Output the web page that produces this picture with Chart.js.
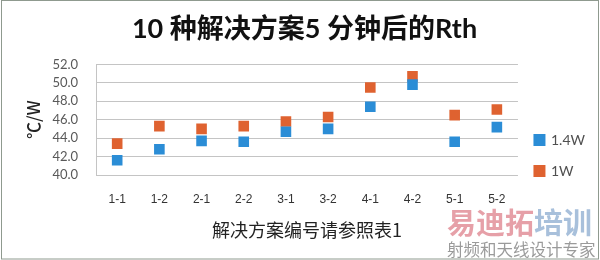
<!DOCTYPE html>
<html>
<head>
<meta charset="utf-8">
<script src="https://cdn.jsdelivr.net/npm/chart.js@4"></script>
<style>
  html, body { margin: 0; padding: 0; background: #fff; }
  #wrap { width: 600px; height: 260px; position: relative; }
</style>
</head>
<body>
<div id="wrap"><canvas id="chart" width="600" height="260"></canvas></div>
<script>
// solution ids on the x axis
const categories = ["1-1", "1-2", "2-1", "2-2", "3-1", "3-2", "4-1", "4-2", "5-1", "5-2"];
// Rth after 5 minutes, degC/W
const rth14W = [41.6, 42.8, 43.7, 43.6, 44.7, 45.0, 47.4, 49.8, 43.6, 45.2];
const rth1W = [43.4, 45.3, 45.0, 45.3, 45.8, 46.3, 49.5, 50.7, 46.5, 47.1];
const seriesNames = ["1.4W", "1W"];
const yMin = 40, yMax = 52, yStep = 2;

const blue = "#2b8dd6";
const orange = "#df6230";
const gridColor = "#c4c4c4";

// white background, outer frame and the watermark in the corner
const frame = {
    id: "frame",
    beforeDraw(chart) {
        const c = chart.ctx;
        c.save();
        c.fillStyle = "#fff";
        c.fillRect(0, 0, chart.width, chart.height);
        c.restore();
    },
    afterDraw(chart) {
        const c = chart.ctx;
        c.save();
        c.strokeStyle = "#8f9a8f";
        c.lineWidth = 1;
        c.strokeRect(1.5, 0.5, chart.width - 3, chart.height - 1.5);

        c.textBaseline = "middle";
        c.textAlign = "left";
        c.font = "bold 29px 'Noto Sans CJK SC'";
        c.fillStyle = "rgba(214, 96, 110, 0.6)";
        c.fillText("易迪拓", 447, 223);
        const w = c.measureText("易迪拓").width;
        c.fillStyle = "rgba(110, 150, 195, 0.6)";
        c.fillText("培训", 447 + w, 223);
        c.font = "16.5px 'Noto Sans CJK SC'";
        c.fillStyle = "rgba(120, 120, 120, 0.75)";
        c.fillText("射频和天线设计专家", 447, 250);
        c.restore();
    }
};

const ctx = document.getElementById("chart").getContext("2d");
new Chart(ctx, {
    type: "line",
    data: {
        labels: categories,
        datasets: [
            {
                label: seriesNames[0],
                data: rth14W,
                showLine: false,
                pointStyle: "rect",
                pointRadius: 7.5,
                backgroundColor: blue,
                borderColor: blue,
                pointBorderWidth: 0,
            },
            {
                label: seriesNames[1],
                data: rth1W,
                showLine: false,
                pointStyle: "rect",
                pointRadius: 7.5,
                backgroundColor: orange,
                borderColor: orange,
                pointBorderWidth: 0,
            },
        ],
    },
    options: {
        responsive: false,
        animation: false,
        layout: { padding: { left: 14, right: 5, top: 0, bottom: 19 } },
        plugins: {
            title: {
                display: true,
                text: "10 种解决方案5 分钟后的Rth",
                color: "#111",
                font: { family: "Lato, 'Noto Sans CJK SC'", size: 27, weight: "bold" },
                padding: { top: 13, bottom: 19 },
            },
            legend: {
                position: "right",
                align: "start",
                // empty title only pushes the two entries down to mid height
                title: { display: true, text: " ", padding: { top: 101.6, bottom: 0 } },
                labels: {
                    boxWidth: 9,
                    boxHeight: 9,
                    padding: 17,
                    color: "#505050",
                    font: { family: "Lato, 'Liberation Sans'", size: 14 },
                },
            },
            tooltip: { enabled: false },
        },
        scales: {
            x: {
                offset: true,
                grid: { display: false, drawTicks: false },
                border: { display: false },
                ticks: {
                    color: "#333",
                    padding: 17,
                    maxRotation: 0,
                    autoSkip: false,
                    font: { family: "'Liberation Sans'", size: 12 },
                },
                title: {
                    display: true,
                    text: "解决方案编号请参照表1",
                    color: "#222",
                    font: { family: "'Noto Sans CJK SC'", size: 18 },
                    padding: { top: -4, bottom: 0 },
                },
            },
            y: {
                min: yMin,
                max: yMax,
                grid: { color: gridColor, drawTicks: false },
                border: { display: true, color: gridColor },
                ticks: {
                    stepSize: yStep,
                    autoSkip: false,
                    padding: 18,
                    color: "#595959",
                    font: { family: "Lato, 'Liberation Sans'", size: 13 },
                    callback: (v) => v.toFixed(1),
                },
                title: {
                    display: true,
                    text: "℃/W",
                    color: "#222",
                    font: { family: "'Noto Sans CJK SC'", size: 17, weight: 500 },
                    padding: { top: 9, bottom: -9 },
                },
            },
        },
    },
    plugins: [frame],
});
</script>
</body>
</html>
